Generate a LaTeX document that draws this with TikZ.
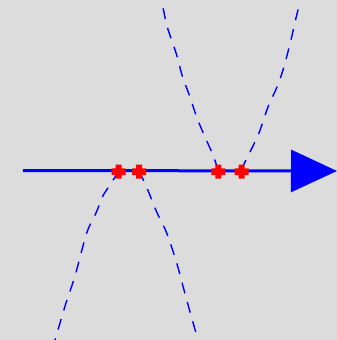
\documentclass[tikz,border=0pt]{standalone}
\usetikzlibrary{arrows.meta}
\definecolor{bg}{RGB}{220,220,220}
\definecolor{pblue}{RGB}{0,0,255}
\definecolor{pred}{RGB}{255,0,0}
\tikzset{
  plusmark/.style={minimum size=14pt, inner sep=0pt, outer sep=0pt,
    path picture={\fill[pred, shift={(path picture bounding box.center)}]
      (-7pt,-3.3pt) rectangle (7pt,3.3pt) (-3pt,-7pt) rectangle (3pt,7pt);}},
  axisline/.style={pblue, line width=3pt, -{Triangle[length=46pt 0 0, width=42pt 0 0]}},
  branch/.style={pblue, line width=1.4pt, dash pattern=on 11pt off 9pt}
}
\begin{document}
\begin{tikzpicture}[x=1pt,y=-1pt]
\fill[bg] (0,0) rectangle (337,340);
\useasboundingbox (0,0) rectangle (337,340);
\clip (0,0) rectangle (337,340);
% curves
\draw[branch] plot[smooth] coordinates {(218,170) (213,155) (205,137) (197,118) (190,97) (182,75) (176.7,55) (167,26) (162,2)};
\draw[branch] plot[smooth] coordinates {(241,170) (250,152) (259,133) (268,107) (277,87) (283,70) (290,44) (296,18) (300,2)};
\draw[branch] plot[smooth] coordinates {(119,171) (107.7,188.3) (103.3,195) (96,213) (86.7,233) (75,276) (66,303) (55,340)};
\draw[branch] plot[smooth] coordinates {(139,171) (147,188) (156.7,212) (166.7,233) (176.7,263) (186.7,300) (198,340)};
% axis
\coordinate (a) at (23,170.5);
\coordinate (b) at (337,171);
\draw[axisline] (a) -- (b);
% marks
\node[plusmark] (m1) at (118.5,171.7) {};
\node[plusmark] (m2) at (139,171.7) {};
\node[plusmark] (m3) at (218.3,171.7) {};
\node[plusmark] (m4) at (241.7,171.7) {};
\end{tikzpicture}
\end{document}
